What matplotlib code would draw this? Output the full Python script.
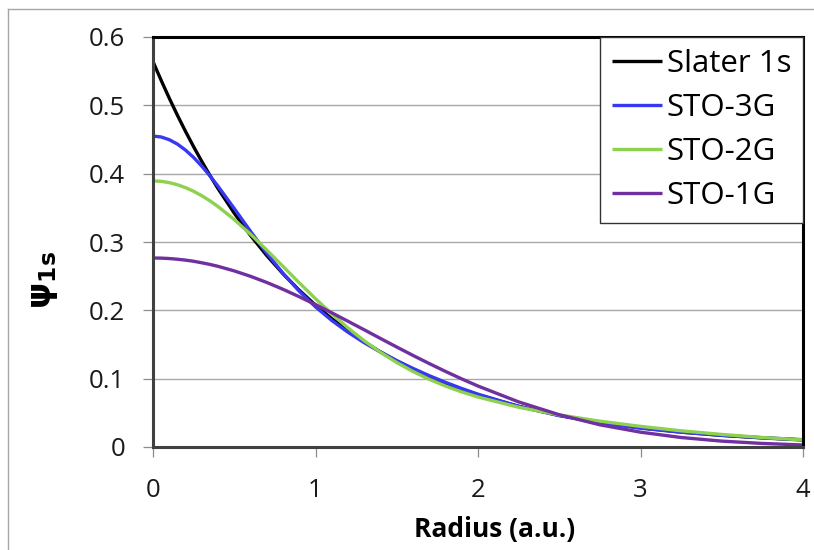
import matplotlib
matplotlib.use('Agg')
import matplotlib.pyplot as plt
from matplotlib.lines import Line2D

plt.rcParams['font.family'] = ['Open Sans', 'DejaVu Sans']

# radius (a.u.) and wavefunction values
radius = [0.0, 0.05, 0.1, 0.15, 0.2, 0.25, 0.3, 0.35, 0.4, 0.5, 0.6, 0.7, 0.8, 0.9, 1.0,
          1.1, 1.2, 1.3, 1.4, 1.5, 1.6, 1.7, 1.8, 1.9, 2.0,
          2.25, 2.5, 2.75, 3.0, 3.25, 3.5, 3.75, 4.0]
slater_1s = [0.564, 0.5367, 0.5105, 0.4856, 0.4619, 0.4394, 0.418, 0.3976, 0.3782, 0.3422,
             0.3096, 0.2802, 0.2535, 0.2294, 0.2076,
             0.1878, 0.1699, 0.1538, 0.1391, 0.1259, 0.1139, 0.1031, 0.0933, 0.0844, 0.0764,
             0.0595, 0.0463, 0.0361, 0.0281, 0.0219, 0.0170, 0.0133, 0.0103]
sto_3g = [0.4550, 0.4537, 0.4497, 0.4433, 0.4345, 0.4237, 0.4110, 0.3969, 0.3816, 0.3490,
          0.3157, 0.2836, 0.2542, 0.2280, 0.2051,
          0.1852, 0.1679, 0.1526, 0.1389, 0.1264, 0.1150, 0.1044, 0.0946, 0.0856, 0.0773,
          0.0595, 0.0458, 0.0354, 0.0275, 0.0216, 0.0171, 0.0136, 0.0107]
sto_2g = [0.3894, 0.3888, 0.3869, 0.3838, 0.3796, 0.3742, 0.3677, 0.3603, 0.3519, 0.3329,
          0.3114, 0.2882, 0.2643, 0.2403, 0.2170,
          0.1949, 0.1742, 0.1554, 0.1385, 0.1236, 0.1105, 0.0991, 0.0892, 0.0806, 0.0731,
          0.0582, 0.0469, 0.0378, 0.0302, 0.0237, 0.0184, 0.0139, 0.0104]
sto_1g = [0.2766, 0.2764, 0.2758, 0.2748, 0.2735, 0.2718, 0.2696, 0.2672, 0.2644, 0.2577,
          0.2498, 0.2408, 0.2308, 0.2199, 0.2084,
          0.1964, 0.1840, 0.1715, 0.1588, 0.1463, 0.1340, 0.1221, 0.1106, 0.0996, 0.0892,
          0.0660, 0.0472, 0.0325, 0.0217, 0.0139, 0.0086, 0.0052, 0.0030]

series = [('Slater 1s', slater_1s, '#000000'),
          ('STO-3G', sto_3g, '#3838F4'),
          ('STO-2G', sto_2g, '#8ED14F'),
          ('STO-1G', sto_1g, '#7030A0')]

fig = plt.figure(figsize=(8.14, 5.5), dpi=100)
ax = fig.add_axes([153/814, 1 - 447/550, 650/814, 410/550])

for name, vals, col in series:
    ax.plot(radius, vals, color=col, lw=2.4, label=name, solid_capstyle='butt',
            solid_joinstyle='round')

ax.set_xlim(0, 4)
ax.set_ylim(0, 0.6)
ax.set_xticks([0, 1, 2, 3, 4])
ax.set_xticklabels(['0', '1', '2', '3', '4'])
ax.set_yticks([0, 0.1, 0.2, 0.3, 0.4, 0.5, 0.6])
ax.set_yticklabels(['0', '0.1', '0.2', '0.3', '0.4', '0.5', '0.6'])
ax.tick_params(axis='both', direction='out', length=7, width=0.9, color='#8c8c8c',
               labelsize=18.5, labelcolor='#1a1a1a')
ax.tick_params(axis='y', pad=13)
ax.tick_params(axis='x', pad=15)

ax.yaxis.grid(True, color='#a8a8a8', lw=1)
ax.set_axisbelow(True)

for s in ['left', 'bottom']:
    ax.spines[s].set_color('#404040')
    ax.spines[s].set_linewidth(2.2)
for s in ['top', 'right']:
    ax.spines[s].set_color('#000000')
    ax.spines[s].set_linewidth(2.2)

ax.set_xlabel('Radius (a.u.)', fontsize=19, fontweight='bold', va='top')
ax.xaxis.set_label_coords((495 - 153)/650, (447 - 516)/410)

fig.text(44/814, 1 - 280/550, 'ψ$_{\\mathbf{1s}}$', rotation=90, ha='center', va='center',
         fontsize=24, fontweight='bold', family=['DejaVu Sans'])

leg = ax.legend(loc='upper right', bbox_to_anchor=(1, 1), borderaxespad=0, fancybox=False,
                framealpha=1, edgecolor='#333333', fontsize=22.5, handlelength=1.6,
                handletextpad=0.15, labelspacing=0.45, borderpad=0.38)
leg.get_frame().set_linewidth(1.0)

# chart area border (light grey)
fig.add_artist(Line2D([8/814, 8/814], [0, 1 - 9/550], transform=fig.transFigure, color='#a6a6a6', lw=1))
fig.add_artist(Line2D([8/814, 1], [1 - 9/550, 1 - 9/550], transform=fig.transFigure, color='#a6a6a6', lw=1))

fig.savefig('out.png', dpi=100)
